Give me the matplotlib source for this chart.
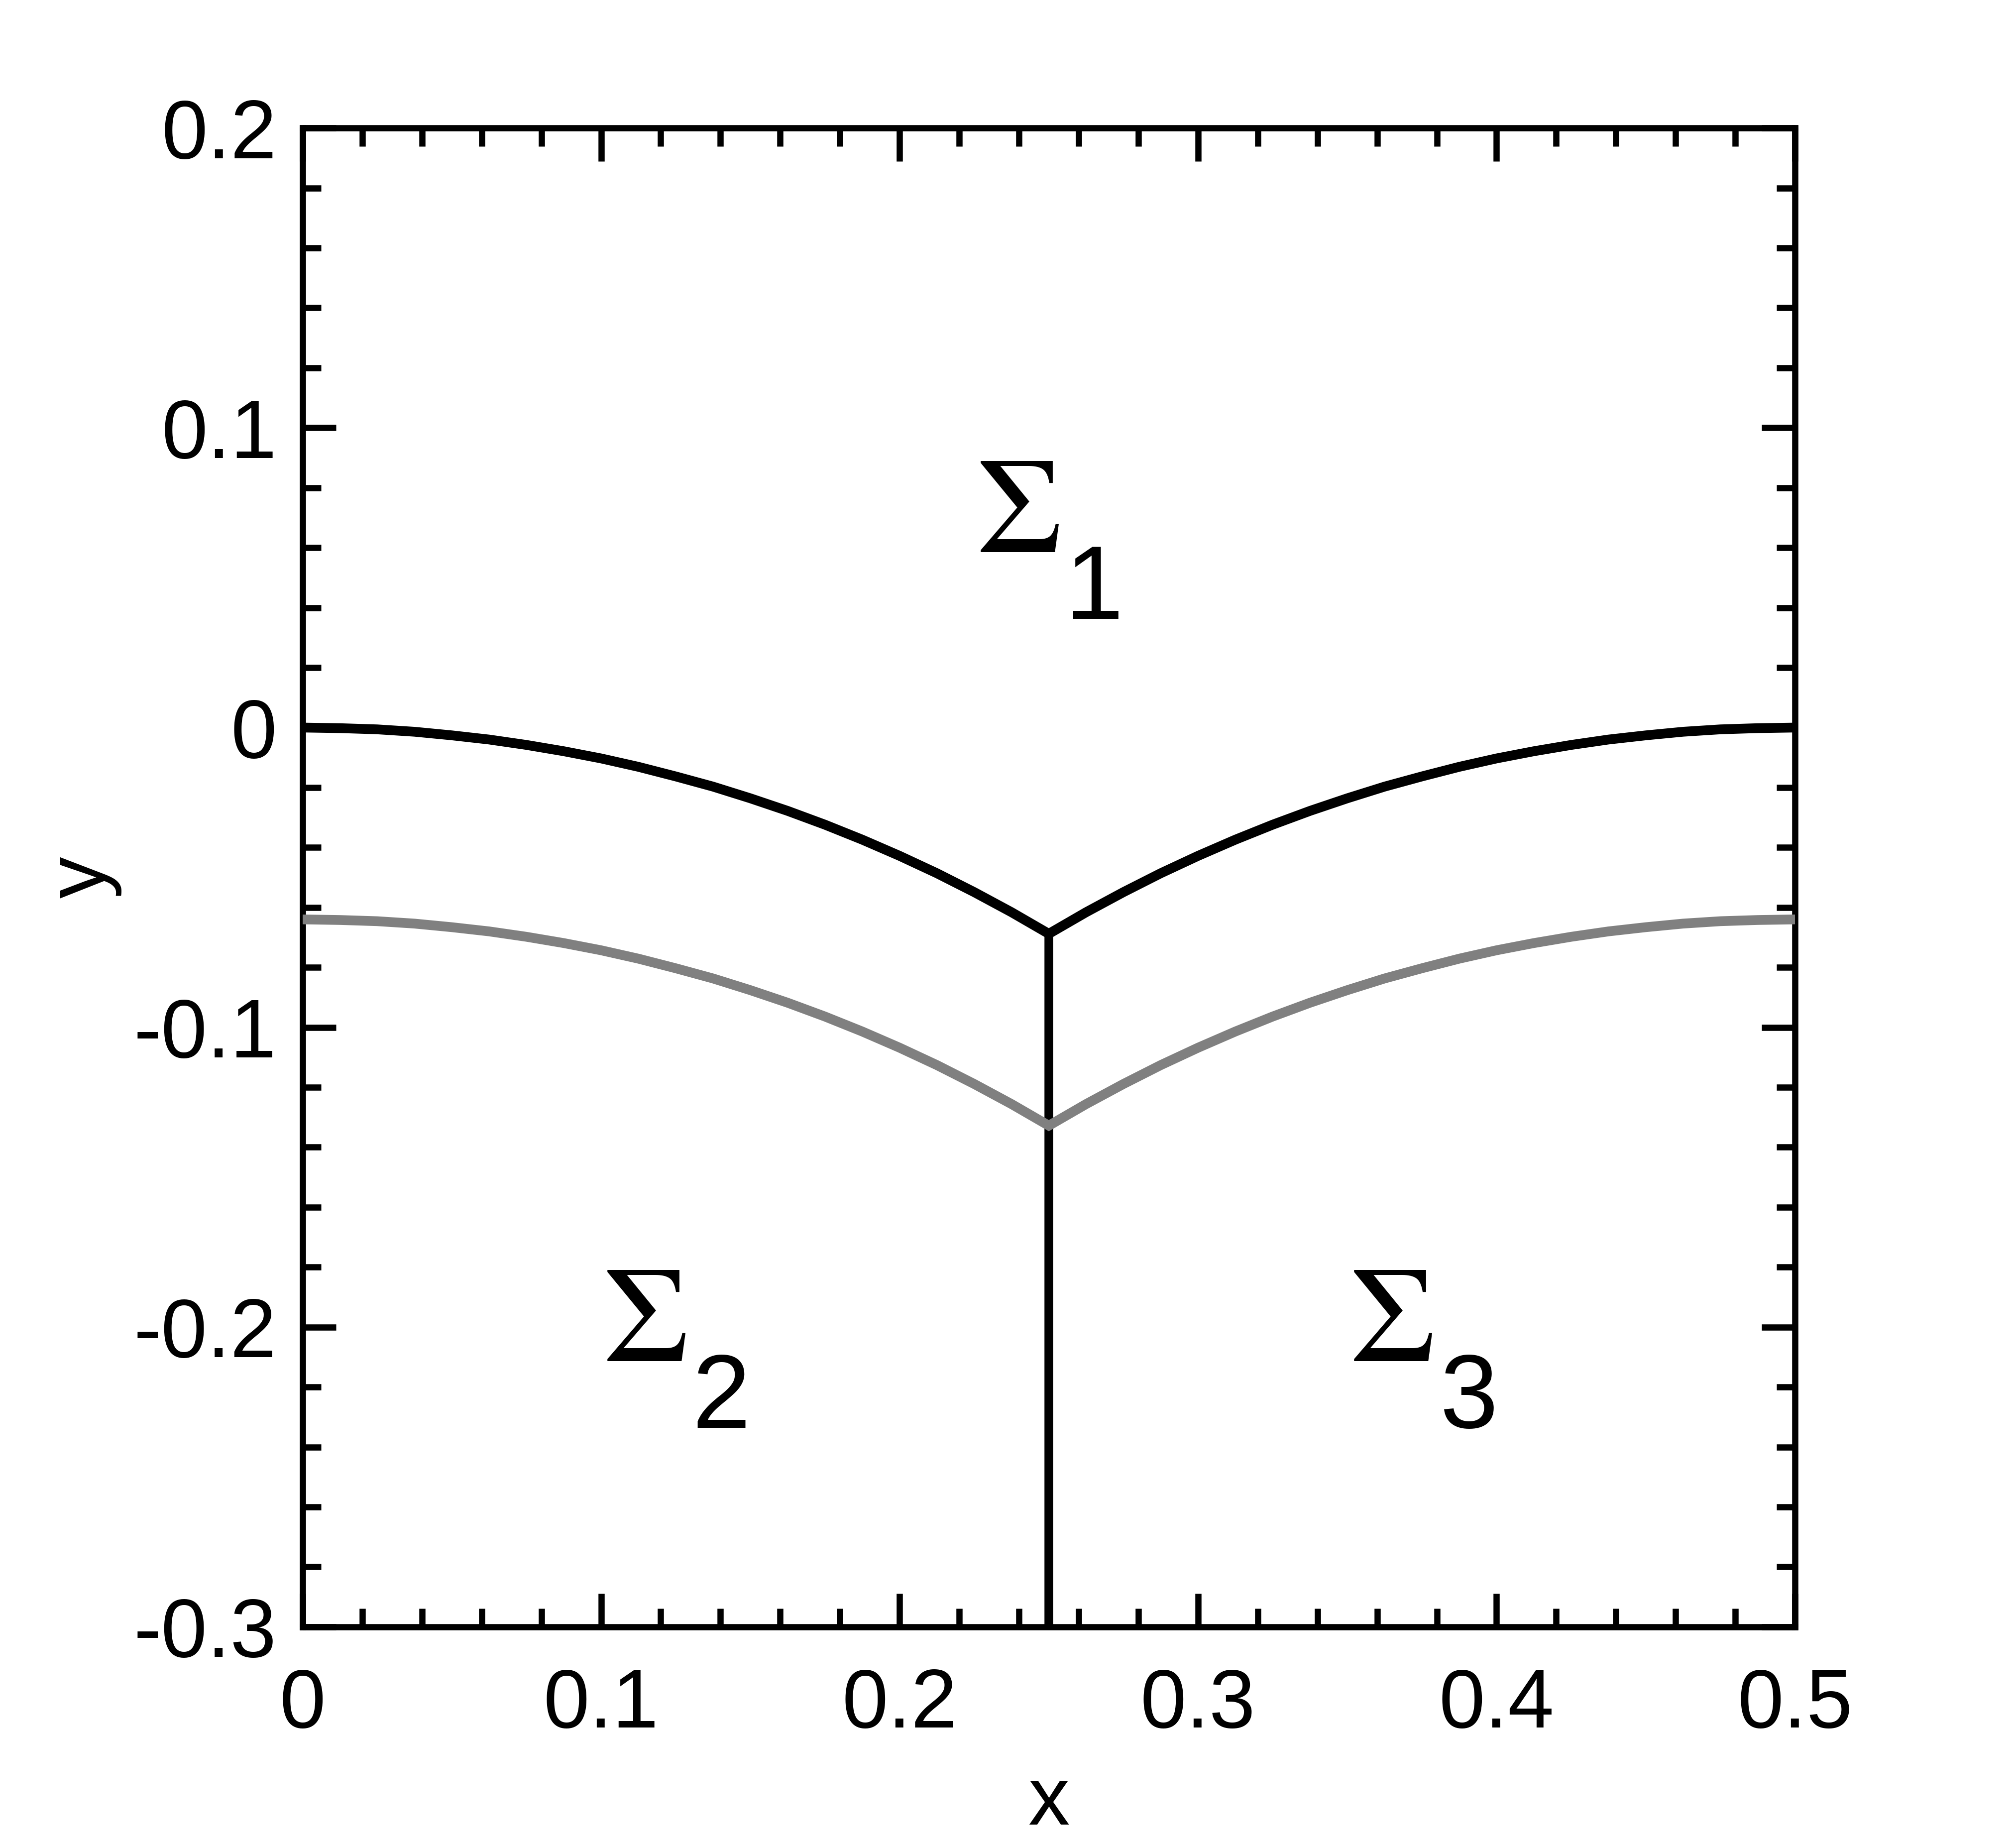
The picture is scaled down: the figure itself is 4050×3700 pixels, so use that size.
import matplotlib
matplotlib.use('Agg')
import matplotlib.pyplot as plt
from matplotlib.ticker import MultipleLocator, FuncFormatter

plt.rcParams['font.family'] = ['Liberation Sans', 'DejaVu Sans']
plt.rcParams['axes.unicode_minus'] = False

# interface positions
x_vals = [0.0000, 0.0125, 0.0250, 0.0375, 0.0500, 0.0625, 0.0750, 0.0875, 0.1000, 0.1125,
          0.1250, 0.1375, 0.1500, 0.1625, 0.1750, 0.1875, 0.2000, 0.2125, 0.2250, 0.2375,
          0.2500,
          0.2625, 0.2750, 0.2875, 0.3000, 0.3125, 0.3250, 0.3375, 0.3500, 0.3625, 0.3750,
          0.3875, 0.4000, 0.4125, 0.4250, 0.4375, 0.4500, 0.4625, 0.4750, 0.4875, 0.5000]
black_vals = [0.0000, -0.0002, -0.0006, -0.0014, -0.0026, -0.0040, -0.0058, -0.0079, -0.0103, -0.0131,
              -0.0163, -0.0197, -0.0236, -0.0278, -0.0324, -0.0374, -0.0428, -0.0486, -0.0549, -0.0616,
              -0.0688,
              -0.0616, -0.0549, -0.0486, -0.0428, -0.0374, -0.0324, -0.0278, -0.0236, -0.0197, -0.0163,
              -0.0131, -0.0103, -0.0079, -0.0058, -0.0040, -0.0026, -0.0014, -0.0006, -0.0002, 0.0000]
gray_vals = [-0.0640, -0.0642, -0.0646, -0.0654, -0.0666, -0.0680, -0.0698, -0.0719, -0.0743, -0.0771,
             -0.0803, -0.0837, -0.0876, -0.0918, -0.0964, -0.1014, -0.1068, -0.1126, -0.1189, -0.1256,
             -0.1328,
             -0.1256, -0.1189, -0.1126, -0.1068, -0.1014, -0.0964, -0.0918, -0.0876, -0.0837, -0.0803,
             -0.0771, -0.0743, -0.0719, -0.0698, -0.0680, -0.0666, -0.0654, -0.0646, -0.0642, -0.0640]
divider_x = [0.25, 0.25]
divider_y = [-0.0688, -0.3]

region_names = ['1', '2', '3']

fig = plt.figure(figsize=(13.5, 3700 / 300), dpi=300)
ax = fig.add_axes([0.1501, 0.1168, 0.7403, 0.8137])

ax.plot(x_vals, black_vals, color='black', lw=4.7, solid_joinstyle='miter', zorder=3)
ax.plot(divider_x, divider_y, color='black', lw=4.2, zorder=3)
ax.plot(x_vals, gray_vals, color='#808080', lw=4.7, solid_joinstyle='miter', zorder=4)

ax.set_xlim(0, 0.5)
ax.set_ylim(-0.3, 0.2)
ax.xaxis.set_major_locator(MultipleLocator(0.1))
ax.xaxis.set_minor_locator(MultipleLocator(0.02))
ax.yaxis.set_major_locator(MultipleLocator(0.1))
ax.yaxis.set_minor_locator(MultipleLocator(0.02))

def fmt(v, pos):
    s = '%g' % round(v, 3)
    return '0' if s == '-0' else s

ax.xaxis.set_major_formatter(FuncFormatter(fmt))
ax.yaxis.set_major_formatter(FuncFormatter(fmt))

ax.tick_params(which='both', direction='in', top=True, right=True, width=3, labelsize=40)
ax.tick_params(which='major', length=16)
ax.tick_params(which='minor', length=8.9)
ax.tick_params(axis='x', pad=19.5)
ax.tick_params(axis='y', pad=12.5)
for sp in ax.spines.values():
    sp.set_linewidth(3)

ax.set_xlabel('x', fontsize=40)
ax.set_ylabel('y', fontsize=40)
ax.xaxis.set_label_coords(0.5, -0.0917)
ax.yaxis.set_label_coords(-0.1213, 0.5)

# region labels
sig_pos = [(0.2401, 0.0585), (0.1150, -0.2113), (0.3652, -0.2113)]
sub_pos = [(0.2653, 0.0363), (0.1402, -0.2336), (0.3908, -0.2336)]
for name, (sx, sy), (bx, by) in zip(region_names, sig_pos, sub_pos):
    ax.text(sx, sy, '\u03a3', family=['STIXGeneral', 'Liberation Serif', 'DejaVu Serif'], fontsize=66,
            ha='center', va='baseline')
    ax.text(bx, by, name, fontsize=50.5, ha='center', va='baseline')

fig.savefig('out.png', dpi=300)
